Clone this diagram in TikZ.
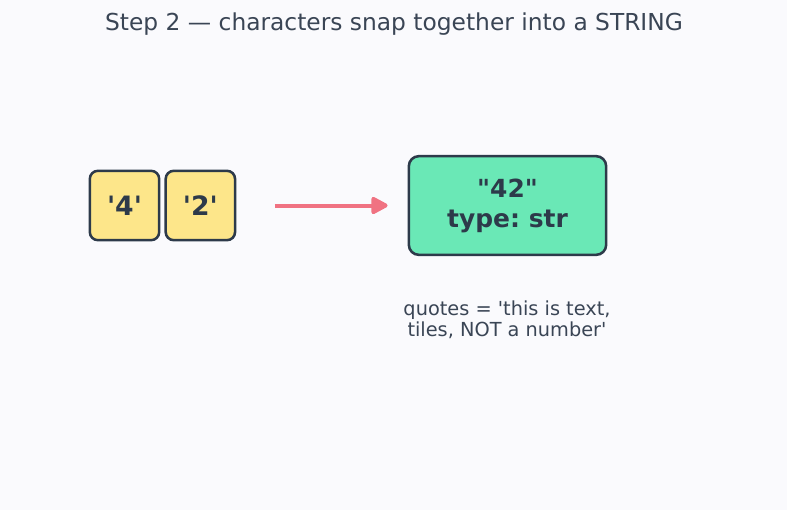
\documentclass[tikz,border=0pt]{standalone}
\usepackage{fontspec}
\setmainfont{DejaVu Sans}[Ligatures=TeXOff]
\usetikzlibrary{arrows.meta}
\usetikzlibrary{positioning}
\definecolor{mbg}{HTML}{FAFAFD}
\definecolor{mink}{HTML}{2D3A4A}
\definecolor{mtext}{HTML}{3A4555}
\definecolor{myellow}{HTML}{FDE68A}
\definecolor{mgreen}{HTML}{6AE8B6}
\definecolor{mred}{HTML}{F07282}
\tikzset{tile/.style = {draw=mink, fill=myellow, line width=1.9pt, rounded corners=6pt,
                        minimum width=52pt, minimum height=52pt, inner sep=0pt,
                        text=mink, font=\fontsize{20}{22}\selectfont\bfseries},
         strbox/.style = {draw=mink, fill=mgreen, line width=1.9pt, rounded corners=7.5pt,
                          minimum width=148pt, minimum height=74pt, align=center,
                          text=mink, font=\fontsize{18.7}{22.5}\selectfont\bfseries},
         joinarrow/.style = {draw=mred, line width=3pt, -{Triangle[round, length=14pt, width=14pt]}}}
\frenchspacing

\begin{document}
\begin{tikzpicture}[x=0.75pt, y=-0.75pt]
    \fill[mbg] (0, 0) rectangle (787, 510);
    \useasboundingbox (0, 0) rectangle (787, 510);

    \node[text=mtext, font=\fontsize{17.5}{20}\selectfont] (title) at (394, 24) {Step 2 — characters snap together into a STRING};

    \node[tile] (tilefour) at (124.5, 205.5) {'4'};
    \node[tile, right=3pt of tilefour] (tiletwo) {'2'};
    \node[strbox] (result) at (507.5, 205.5) {"42"\\type: str};

    \draw[joinarrow, shorten <=29pt, shorten >=15pt] (tiletwo) -- (result);

    \node[text=mtext, align=center, font=\fontsize{14.5}{15.8}\selectfont] (caption) at (507, 320) {quotes = 'this is text,\\tiles, NOT a number'};
\end{tikzpicture}
\end{document}
